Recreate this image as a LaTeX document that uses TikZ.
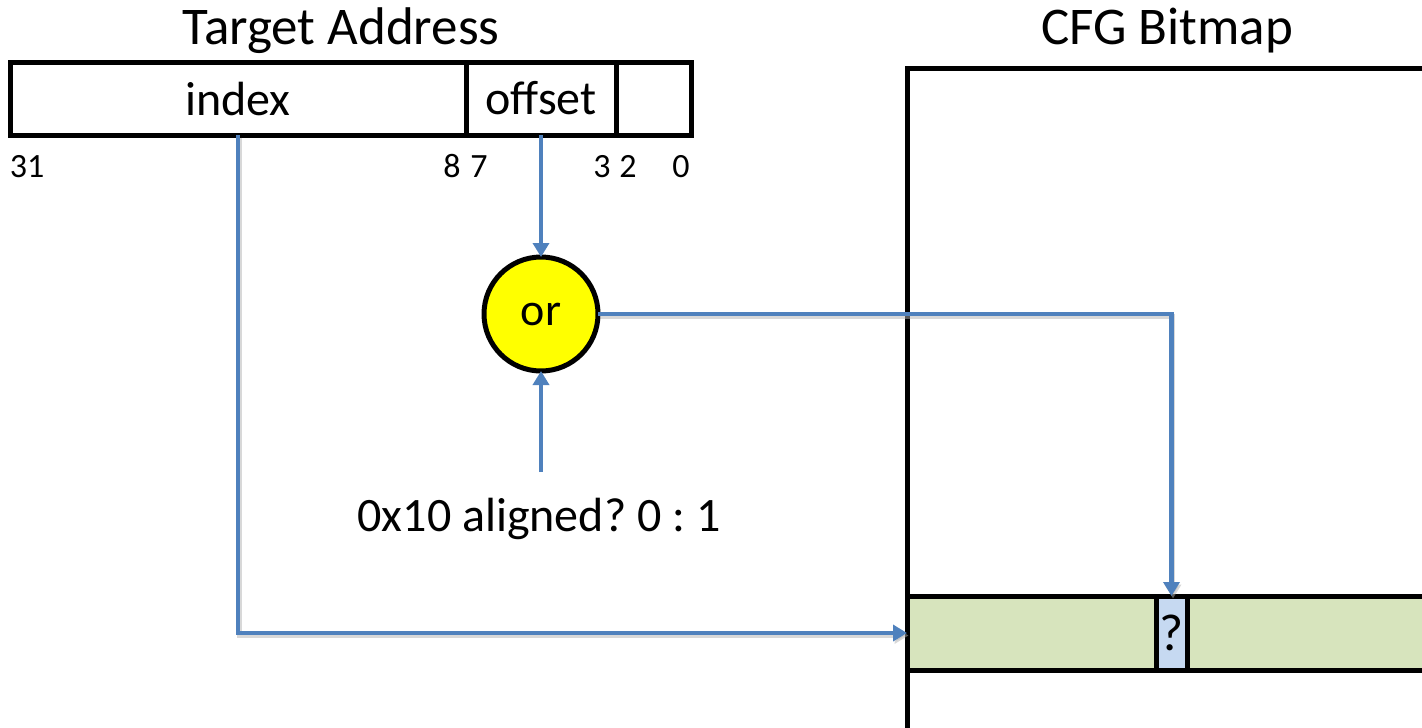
\documentclass[tikz,border=0pt]{standalone}
\usepackage{fontspec}
\setmainfont{Carlito}
\usetikzlibrary{arrows.meta}

\definecolor{linkblue}{HTML}{4F81BD}
\definecolor{rowgreen}{HTML}{D7E4BD}
\definecolor{bitblue}{HTML}{C6D9F1}
\definecolor{gateyellow}{HTML}{FFFF00}

\tikzset{
  title/.style={font=\fontsize{53}{58}\selectfont},
  big/.style={font=\fontsize{48}{52}\selectfont},
  small/.style={font=\fontsize{34}{38}\selectfont},
  field/.style={draw=black, line width=5pt, rectangle, inner sep=0pt, outer sep=0pt,
                minimum height=73pt, big},
  cell/.style={draw=black, line width=5pt, rectangle, inner sep=0pt, outer sep=0pt,
               minimum height=74pt, big},
  gate/.style={draw=black, line width=5pt, circle, fill=gateyellow, inner sep=0pt,
               outer sep=0pt, minimum size=114pt, font=\fontsize{46}{50}\selectfont},
  link/.style={draw=linkblue, line width=4.5pt,
               -{Triangle[length=14pt,width=16pt]}},
  shade/.style={draw=black!30, line width=4.5pt, opacity=0.5,
                -{Triangle[length=14pt,width=16pt]}},
  frame/.style={draw=black, line width=5pt}
}

\begin{document}
\frenchspacing
\begin{tikzpicture}[x=1pt, y=-1pt]
  \clip (0,0) rectangle (1422,728);

  % titles
  \node[title, anchor=base] (titleA) at (341,44) {Target Address};
  \node[title, anchor=base] (titleB) at (1167,44) {CFG Bitmap};

  % address fields
  \node[field, minimum width=456pt] (index)  at (238,98.5)   {index};
  \node[field, minimum width=150pt] (offset) at (541,98.5)   {offset};
  \node[field, minimum width=75pt]  (low)    at (653.5,98.5) {};

  % bit positions
  \node[small, anchor=base] (b31) at (27,177)  {31};
  \node[small, anchor=base] (b8)  at (452,177) {8};
  \node[small, anchor=base] (b7)  at (479,177) {7};
  \node[small, anchor=base] (b3)  at (602,177) {3};
  \node[small, anchor=base] (b2)  at (628,177) {2};
  \node[small, anchor=base] (b0)  at (681,177) {0};

  % or gate and its second input
  \node[gate] (orgate) at (541,314) {or};
  \node[big, anchor=base] (cond) at (539,531) {0x10 aligned? 0 : 1};
  \coordinate (condtop) at (541,472);

  % bitmap frame
  \draw[frame] (907,740) -- (907,68) -- (1440,68);

  % selected bitmap row
  \node[cell, fill=rowgreen, minimum width=249pt] (rowL) at (1031.5,633) {};
  \node[cell, fill=bitblue,  minimum width=31pt, font=\fontsize{52}{56}\selectfont]
       (q) at (1171.5,633) {?};
  \node[cell, fill=rowgreen, minimum width=260pt] (rowR) at (1317,633)   {};

  % soft drop shadows under the connectors
  \begin{scope}[transform canvas={shift={(1.5pt,-2.5pt)}}]
    \draw[shade] (index.south) |- (rowL.west);
    \draw[shade] (orgate.east) -| (q.north);
  \end{scope}

  % connectors
  \draw[link] (index.south) |- (rowL.west);
  \draw[link] (offset.south) -- (orgate.north);
  \draw[link] (condtop) -- (orgate.south);
  \draw[link] (orgate.east) -| (q.north);
\end{tikzpicture}
\end{document}
